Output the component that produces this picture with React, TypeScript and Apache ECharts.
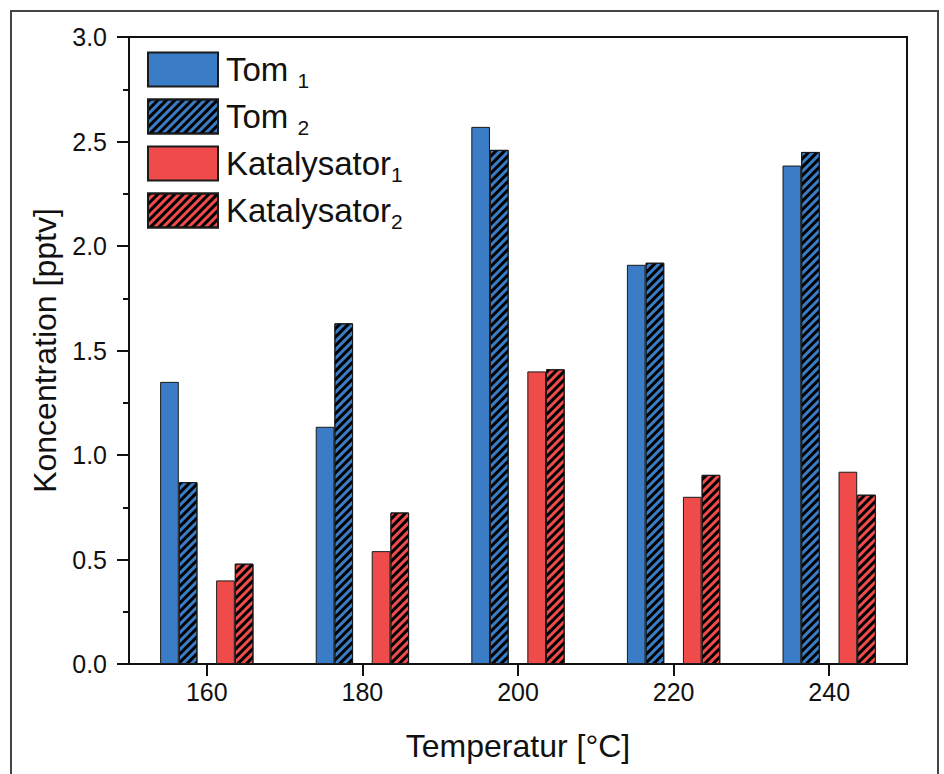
import React, { useEffect, useRef } from "react";
import * as echarts from "echarts";

const categories = ["160", "180", "200", "220", "240"];
const tom1 = [1.35, 1.135, 2.57, 1.91, 2.385];
const tom2 = [0.87, 1.63, 2.46, 1.92, 2.45];
const kat1 = [0.4, 0.54, 1.4, 0.8, 0.92];
const kat2 = [0.48, 0.725, 1.41, 0.905, 0.81];
const gapSlot = [null, null, null, null, null];
const yTicks = [0, 0.5, 1.0, 1.5, 2.0, 2.5, 3.0];

const BLUE = "#3a7dc6";
const RED = "#ef4b4b";
const FONT = "Liberation Sans";

const hatch = (bg: string) => ({
  color: "#000000",
  backgroundColor: bg,
  symbol: "rect",
  dashArrayX: [1, 0],
  dashArrayY: [2.5, 2.5],
  rotation: -Math.PI / 4,
});

export default function App() {
  const ref = useRef<HTMLDivElement>(null);
  useEffect(() => {
    if (!ref.current) return;
    const chart = echarts.init(ref.current, undefined, { renderer: "svg" });
    const barBase = {
      type: "bar",
      barWidth: "12%",
      barGap: "0%",
    };
    const border = { borderColor: "#1a1a1a", borderWidth: 1 };
    chart.setOption({
      animation: false,
      backgroundColor: "#ffffff",
      textStyle: { fontFamily: FONT },
      grid: {
        left: 129,
        right: 37,
        top: 37,
        bottom: 110,
        show: true,
        borderColor: "#111",
        borderWidth: 2,
        backgroundColor: "transparent",
      },
      graphic: [
        {
          type: "rect",
          shape: { x: 11, y: 11, width: 927, height: 780 },
          style: { fill: "none", stroke: "#444", lineWidth: 2 },
          silent: true,
        },
      ],
      legend: {
        orient: "vertical",
        left: 147,
        top: 48,
        padding: 0,
        icon: "rect",
        itemWidth: 70,
        itemHeight: 34,
        itemGap: 4,
        data: ["Tom1", "Tom2", "Katalysator1", "Katalysator2"],
        formatter: (name: string) => {
          if (name === "Tom1") return "{m|Tom }{s|1}";
          if (name === "Tom2") return "{m|Tom }{s|2}";
          if (name === "Katalysator1") return "{m|Katalysator}{s|1}";
          return "{m|Katalysator}{s|2}";
        },
        textStyle: {
          fontFamily: FONT,
          color: "#111",
          padding: [0, 0, 0, 3],
          rich: {
            m: { fontSize: 33, fontFamily: FONT, color: "#111", lineHeight: 34 },
            s: { fontSize: 21, fontFamily: FONT, color: "#111", lineHeight: 12, padding: [22, 0, 0, 0] },
          },
        },
      },
      xAxis: {
        type: "category",
        data: categories,
        name: "Temperatur [°C]",
        nameLocation: "middle",
        nameGap: 66,
        nameTextStyle: { fontSize: 32, color: "#111", fontFamily: FONT },
        axisLine: { lineStyle: { color: "#111", width: 2 } },
        axisTick: { show: true, alignWithLabel: true, length: 12, lineStyle: { color: "#111", width: 2 } },
        axisLabel: { fontSize: 25, color: "#111", margin: 15, fontFamily: FONT },
      },
      yAxis: {
        type: "value",
        min: 0,
        max: 3,
        interval: 0.5,
        name: "Koncentration [pptv]",
        nameLocation: "middle",
        nameGap: 62,
        nameTextStyle: { fontSize: 32, color: "#111", fontFamily: FONT },
        axisLine: { show: true, lineStyle: { color: "#111", width: 2 } },
        axisTick: { show: true, length: 12, lineStyle: { color: "#111", width: 2 } },
        minorTick: { show: true, splitNumber: 2, length: 6, lineStyle: { color: "#111", width: 2 } },
        splitLine: { show: false },
        axisLabel: {
          fontSize: 25,
          color: "#111",
          margin: 22,
          fontFamily: FONT,
          formatter: (v: number) => (yTicks.includes(v) ? v.toFixed(1) : ""),
        },
      },
      series: [
        { ...barBase, name: "Tom1", data: tom1, itemStyle: { color: BLUE, ...border } },
        { ...barBase, name: "Tom2", data: tom2, itemStyle: { color: BLUE, ...border, decal: hatch(BLUE) } },
        { ...barBase, name: "gap", data: gapSlot, itemStyle: { color: "transparent" } },
        { ...barBase, name: "Katalysator1", data: kat1, itemStyle: { color: RED, ...border } },
        { ...barBase, name: "Katalysator2", data: kat2, itemStyle: { color: RED, ...border, decal: hatch(RED) } },
      ],
    });
    return () => chart.dispose();
  }, []);
  return (
    <div
      ref={ref}
      style={{ position: "absolute", left: 0, top: 0, width: 944, height: 774 }}
    />
  );
}
